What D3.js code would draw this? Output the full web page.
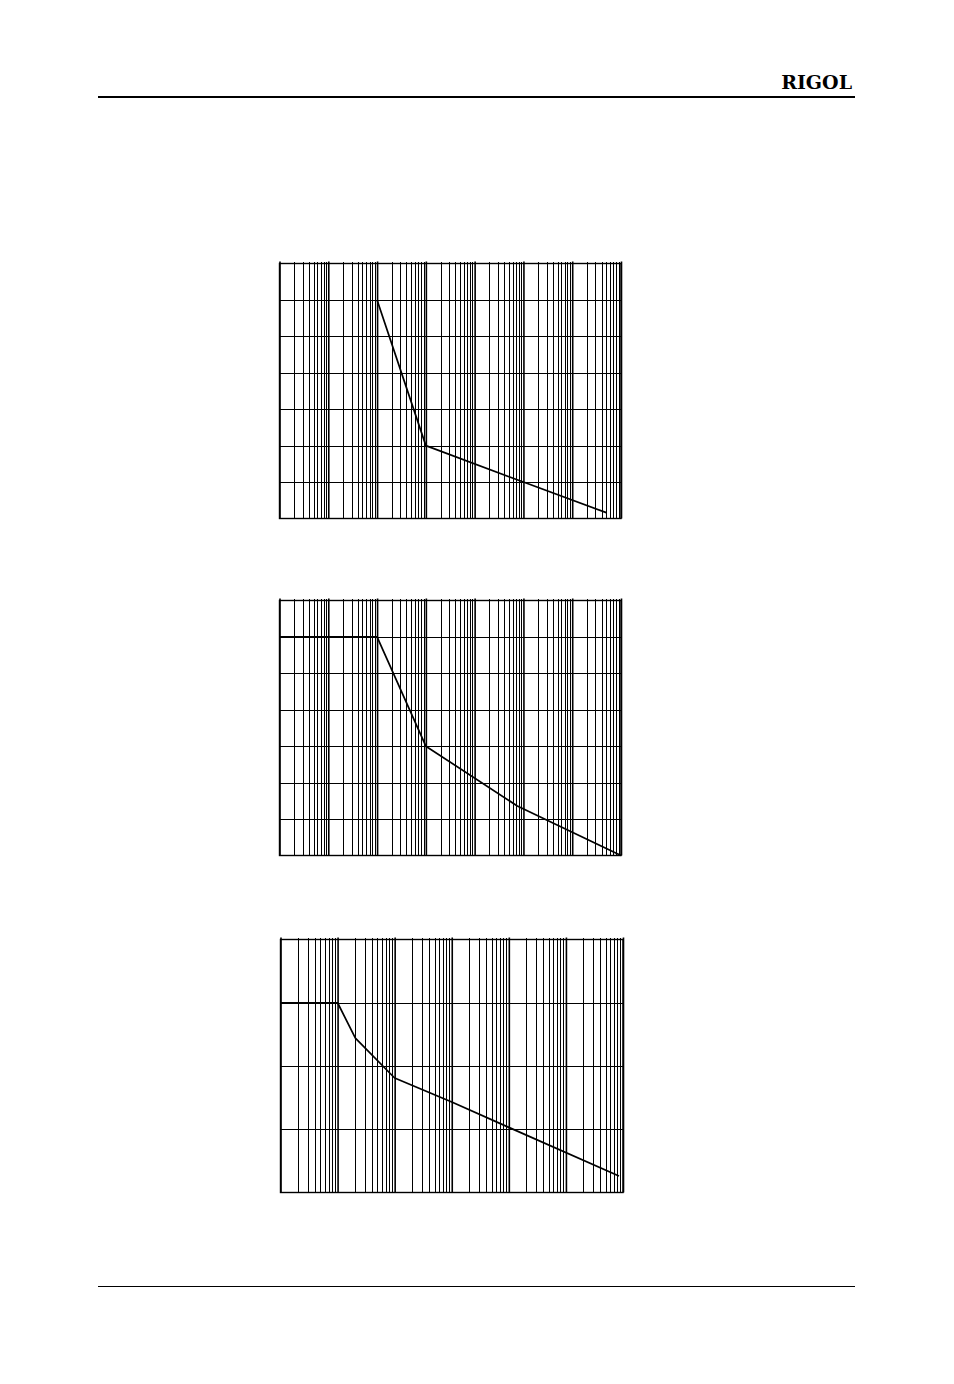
<!DOCTYPE html>
<html>
<head>
<meta charset="utf-8">
<script src="https://cdn.jsdelivr.net/npm/d3@7"></script>
<style>
  body { margin: 0; background: #fff; }
  .grid line { stroke: #000; shape-rendering: crispEdges; }
  .grid path { display: none; }
</style>
</head>
<body>
<div id="page"></div>
<script>
// curve 1: level drops steeply after 100, then slowly
const chart1Freq = [100, 1000, 100000, 5000000];
const chart1Level = [6, 2, 1, 0.16];

// curve 2: flat until 100, then drops to zero at the right edge
const chart2Freq = [1, 100, 1000, 75000, 10000000];
const chart2Level = [6, 6, 3, 1.36, 0];

// curve 3: flat until 10, several break points
const chart3Freq = [1, 10, 20.5, 100, 1000, 10000, 850000];
const chart3Level = [3, 3, 2.44, 1.81, 1.43, 1.03, 0.26];

const headerText = "RIGOL";

const pageWidth = 954;
const pageHeight = 1384;

const svg = d3.select("#page")
    .append("svg")
    .attr("width", pageWidth)
    .attr("height", pageHeight);

// Header and footer rules
svg.append("text")
    .attr("x", 852)
    .attr("y", 89)
    .attr("text-anchor", "end")
    .attr("font-family", "'DejaVu Serif', 'Liberation Serif', serif")
    .attr("font-weight", "bold")
    .attr("font-size", 19)
    .text(headerText);

svg.append("line")
    .attr("x1", 98).attr("x2", 855)
    .attr("y1", 97).attr("y2", 97)
    .attr("stroke", "#000")
    .attr("stroke-width", 2);

svg.append("line")
    .attr("x1", 98).attr("x2", 855)
    .attr("y1", 1286.5).attr("y2", 1286.5)
    .attr("stroke", "#000")
    .attr("stroke-width", 1);

// log tick values: 1..9 x 10^k
function logTicks(decades) {
    const ticks = [];
    for (let k = 0; k < decades; k++) {
        for (let m = 1; m <= 9; m++) ticks.push(m * Math.pow(10, k));
    }
    ticks.push(Math.pow(10, decades));
    return ticks;
}

function drawChart(box, decades, levels, freq, level) {
    const g = svg.append("g");

    const x = d3.scaleLog()
        .domain([1, Math.pow(10, decades)])
        .range([box.left, box.right]);

    const y = d3.scaleLinear()
        .domain([0, levels])
        .range([box.bottom, box.top]);

    const h = box.bottom - box.top;
    const w = box.right - box.left;

    // vertical grid (minor lines)
    g.append("g")
        .attr("class", "grid")
        .attr("transform", `translate(0, ${box.bottom})`)
        .call(d3.axisBottom(x)
            .tickValues(logTicks(decades).filter(v => Math.abs(Math.log10(v) % 1) > 1e-9))
            .tickSize(-(h + 2))
            .tickSizeOuter(0)
            .tickFormat(""));

    // vertical grid (decade lines)
    g.append("g")
        .attr("class", "grid")
        .attr("transform", `translate(0, ${box.bottom})`)
        .call(d3.axisBottom(x)
            .tickValues(d3.range(decades + 1).map(k => Math.pow(10, k)))
            .tickSize(-(h + 2))
            .tickSizeOuter(0)
            .tickFormat(""))
        .selectAll("line")
        .attr("stroke-width", 1.6)
        .style("shape-rendering", "auto");

    // horizontal grid
    g.append("g")
        .attr("class", "grid")
        .attr("transform", `translate(${box.left}, 0)`)
        .call(d3.axisLeft(y)
            .tickValues(d3.range(1, levels))
            .tickSize(-w)
            .tickSizeOuter(0)
            .tickFormat(""));

    // frame
    g.append("rect")
        .attr("x", box.left)
        .attr("y", box.top)
        .attr("width", w)
        .attr("height", h)
        .attr("fill", "none")
        .attr("stroke", "#000")
        .attr("stroke-width", 1.4);

    // curve
    const pts = freq.map((f, i) => ({ f: f, v: level[i] }));
    const line = d3.line()
        .x(d => x(d.f))
        .y(d => y(d.v));

    g.append("path")
        .datum(pts)
        .attr("fill", "none")
        .attr("stroke", "#000")
        .attr("stroke-width", 1.7)
        .attr("stroke-linejoin", "round")
        .attr("d", line);
}

drawChart({ left: 279.5, right: 621, top: 263.5, bottom: 518.5 }, 7, 7, chart1Freq, chart1Level);
drawChart({ left: 279.5, right: 621, top: 600.5, bottom: 855.5 }, 7, 7, chart2Freq, chart2Level);
drawChart({ left: 280.5, right: 623, top: 939.5, bottom: 1192.5 }, 6, 4, chart3Freq, chart3Level);
</script>
</body>
</html>
